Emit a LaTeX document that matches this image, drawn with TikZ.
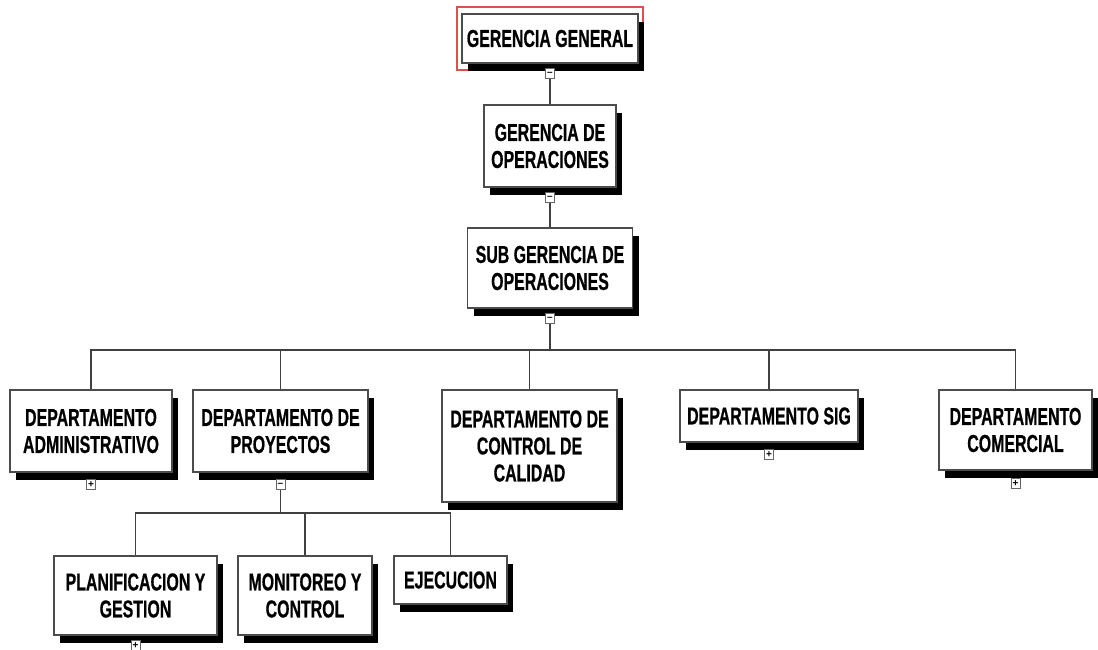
\documentclass[tikz,border=0pt]{standalone}
\usepackage{fontspec}
\newfontfamily\orgfont[FakeStretch=0.65,FakeBold=0.6]{Liberation Sans}
\newfontfamily\signfont{Liberation Sans}
\usetikzlibrary{shadows,calc}
\definecolor{selred}{RGB}{222,80,80}
\begin{document}
\begin{tikzpicture}[x=1pt,y=-1pt,
  orgbox/.style n args={2}{draw=black!70, line width=1.1pt, fill=white, inner sep=0pt,
    align=center, minimum width=#1pt, minimum height=#2pt,
    font=\orgfont\bfseries\fontsize{24.5}{27}\selectfont,
    general shadow={fill=black, shadow xshift=6pt, shadow yshift=-8pt}},
  toggle/.style={draw=black!60, fill=white, line width=0.9pt, minimum width=9pt,
    minimum height=10pt, inner sep=0pt, font=\signfont\bfseries\fontsize{10}{10}\selectfont},
  link/.style={draw=black!75, line width=1.1pt}]
\useasboundingbox (0,0) rectangle (1098,650);

% selection frame around the top unit
\draw[selred, line width=1.4pt] (457,7) rectangle (643,70);

% connector junctions
\coordinate (bus1) at (550,350);
\coordinate (bus2) at (280.5,513);

% units
\node[orgbox={176}{49}] (gg) at (550,38.5) {GERENCIA GENERAL};
\node[orgbox={132}{82}] (go) at (550,146) {GERENCIA DE\\OPERACIONES};
\node[orgbox={165}{80}] (sg) at (550,268) {SUB GERENCIA DE\\OPERACIONES};

\node[orgbox={162}{82}] (adm) at (91,431) {DEPARTAMENTO\\ADMINISTRATIVO};
\node[orgbox={175}{82}] (pro) at (280.5,431) {DEPARTAMENTO DE\\PROYECTOS};
\node[orgbox={175}{112}] (cal) at (529.5,446) {DEPARTAMENTO DE\\CONTROL DE\\CALIDAD};
\node[orgbox={178}{52}] (sig) at (769,416) {DEPARTAMENTO SIG};
\node[orgbox={153}{80}] (com) at (1015.5,430) {DEPARTAMENTO\\COMERCIAL};

\node[orgbox={163}{79}] (pla) at (135.5,595.5) {PLANIFICACION Y\\GESTION};
\node[orgbox={134}{79}] (mon) at (305,595.5) {MONITOREO Y\\CONTROL};
\node[orgbox={113}{48}] (eje) at (450.5,580) {EJECUCION};

% expand / collapse markers
\node[toggle] (tgg) at ($(gg.south)+(0,10)$) {–};
\node[toggle] (tgo) at ($(go.south)+(0,10)$) {–};
\node[toggle] (tsg) at ($(sg.south)+(0,10)$) {–};
\node[toggle] (tadm) at ($(adm.south)+(0,12)$) {+};
\node[toggle] (tpro) at ($(pro.south)+(0,12)$) {–};
\node[toggle] (tsig) at ($(sig.south)+(0,12)$) {+};
\node[toggle] (tcom) at ($(com.south)+(0,13)$) {+};
\node[toggle] (tpla) at ($(pla.south)+(0,10)$) {+};

% tree links
\draw[link] (tgg.south) -- (go.north);
\draw[link] (tgo.south) -- (sg.north);
\draw[link] (tsg.south) -- (bus1);
\draw[link] (bus1) -| (adm.north);
\draw[link] (bus1) -| (pro.north);
\draw[link] (bus1) -| (cal.north);
\draw[link] (bus1) -| (sig.north);
\draw[link] (bus1) -| (com.north);
\draw[link] (tpro.south) -- (bus2);
\draw[link] (bus2) -| (pla.north);
\draw[link] (bus2) -| (mon.north);
\draw[link] (bus2) -| (eje.north);
\end{tikzpicture}
\end{document}
